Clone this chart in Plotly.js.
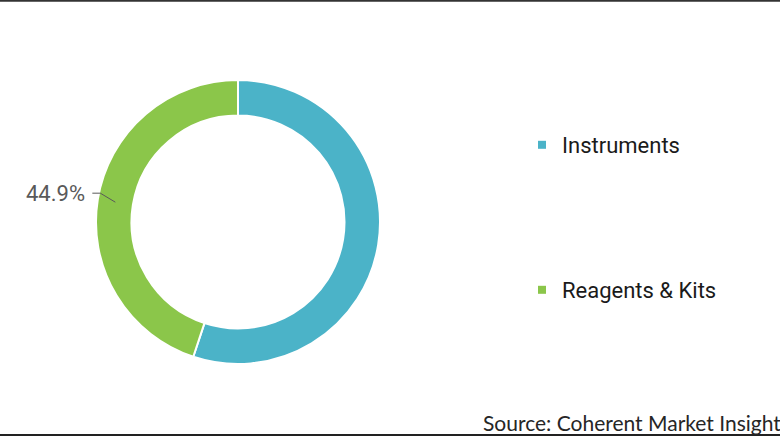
<!DOCTYPE html>
<html>
<head>
<meta charset="utf-8">
<script src="https://cdn.plot.ly/plotly-3.0.1.min.js"></script>
<style>html,body{margin:0;padding:0;background:#fff;}#chart{width:780px;height:440px;}</style>
</head>
<body>
<div id="chart"></div>
<script>
const categories = ['Instruments', 'Reagents & Kits'];
const shares = [55.1, 44.9];
const sliceColors = ['#4bb3c8', '#8bc64a'];
const labelledSlice = 1;
const sourceText = 'Source: Coherent Market Insight';

const W = 780, H = 440;
const cx = 238, cy = 222, R = 142, hole = 0.75;
const px = x => x / W, py = y => 1 - y / H;

// leader line from data
const total = shares.reduce((a, b) => a + b, 0);
let before = 0;
for (let i = 0; i < labelledSlice; i++) before += shares[i];
const midFrac = (before + shares[labelledSlice] / 2) / total;
const th = 2 * Math.PI * midFrac;
const rMid = R * (1 + hole) / 2;
const pX = cx + rMid * Math.sin(th), pY = cy - rMid * Math.cos(th);
const eX = pX - 15, eY = pY - 9;
const tX = eX - 8;
const pct = (shares[labelledSlice] / total * 100).toFixed(1) + '%';

const traces = [{
  type: 'pie',
  labels: categories,
  values: shares,
  hole: hole,
  sort: false,
  direction: 'clockwise',
  rotation: 0,
  textinfo: 'none',
  hoverinfo: 'label+percent',
  showlegend: false,
  marker: {colors: sliceColors, line: {color: '#ffffff', width: 2}},
  domain: {x: [px(cx - R), px(cx + R)], y: [py(cy + R), py(cy - R)]}
}];
categories.forEach((c, i) => {
  traces.push({
    type: 'scatter', mode: 'markers', x: [null], y: [null], name: c,
    marker: {symbol: 'square', size: 8, color: sliceColors[i]},
    legend: i === 0 ? 'legend' : 'legend2', showlegend: true, hoverinfo: 'skip'
  });
});

const legFont = {family: 'Roboto, Arial, sans-serif', size: 22, color: '#1a1a1a'};
const layout = {
  width: W, height: H,
  margin: {l: 0, r: 0, t: 0, b: 0},
  paper_bgcolor: '#ffffff', plot_bgcolor: '#ffffff',
  xaxis: {visible: false, range: [0, 1]},
  yaxis: {visible: false, range: [0, 1]},
  legend: {x: px(522), y: py(145), xanchor: 'left', yanchor: 'middle', font: legFont, bgcolor: 'rgba(0,0,0,0)'},
  legend2: {x: px(522), y: py(290), xanchor: 'left', yanchor: 'middle', font: legFont, bgcolor: 'rgba(0,0,0,0)'},
  shapes: [
    {type: 'line', xref: 'paper', yref: 'paper', x0: 0, x1: 1, y0: py(0.8), y1: py(0.8), line: {color: '#333333', width: 2}},
    {type: 'line', xref: 'paper', yref: 'paper', x0: 0, x1: 1, y0: py(435), y1: py(435), line: {color: '#222222', width: 2}},
    {type: 'path', xref: 'paper', yref: 'paper',
     path: `M ${px(pX)} ${py(pY)} L ${px(eX)} ${py(eY)} L ${px(tX)} ${py(eY)}`,
     line: {color: '#595959', width: 1}}
  ],
  annotations: [
    {xref: 'paper', yref: 'paper', x: px(tX - 5), y: py(eY), xanchor: 'right', yanchor: 'middle',
     text: pct, showarrow: false, font: {family: 'Roboto, Arial, sans-serif', size: 22, color: '#595959'}},
    {xref: 'paper', yref: 'paper', x: px(481), y: py(422), xanchor: 'left', yanchor: 'middle',
     text: sourceText, showarrow: false, font: {family: 'Lato, Open Sans, sans-serif', size: 21, color: '#262626'}}
  ]
};
Plotly.newPlot('chart', traces, layout, {displayModeBar: false, staticPlot: true});
</script>
</body>
</html>
